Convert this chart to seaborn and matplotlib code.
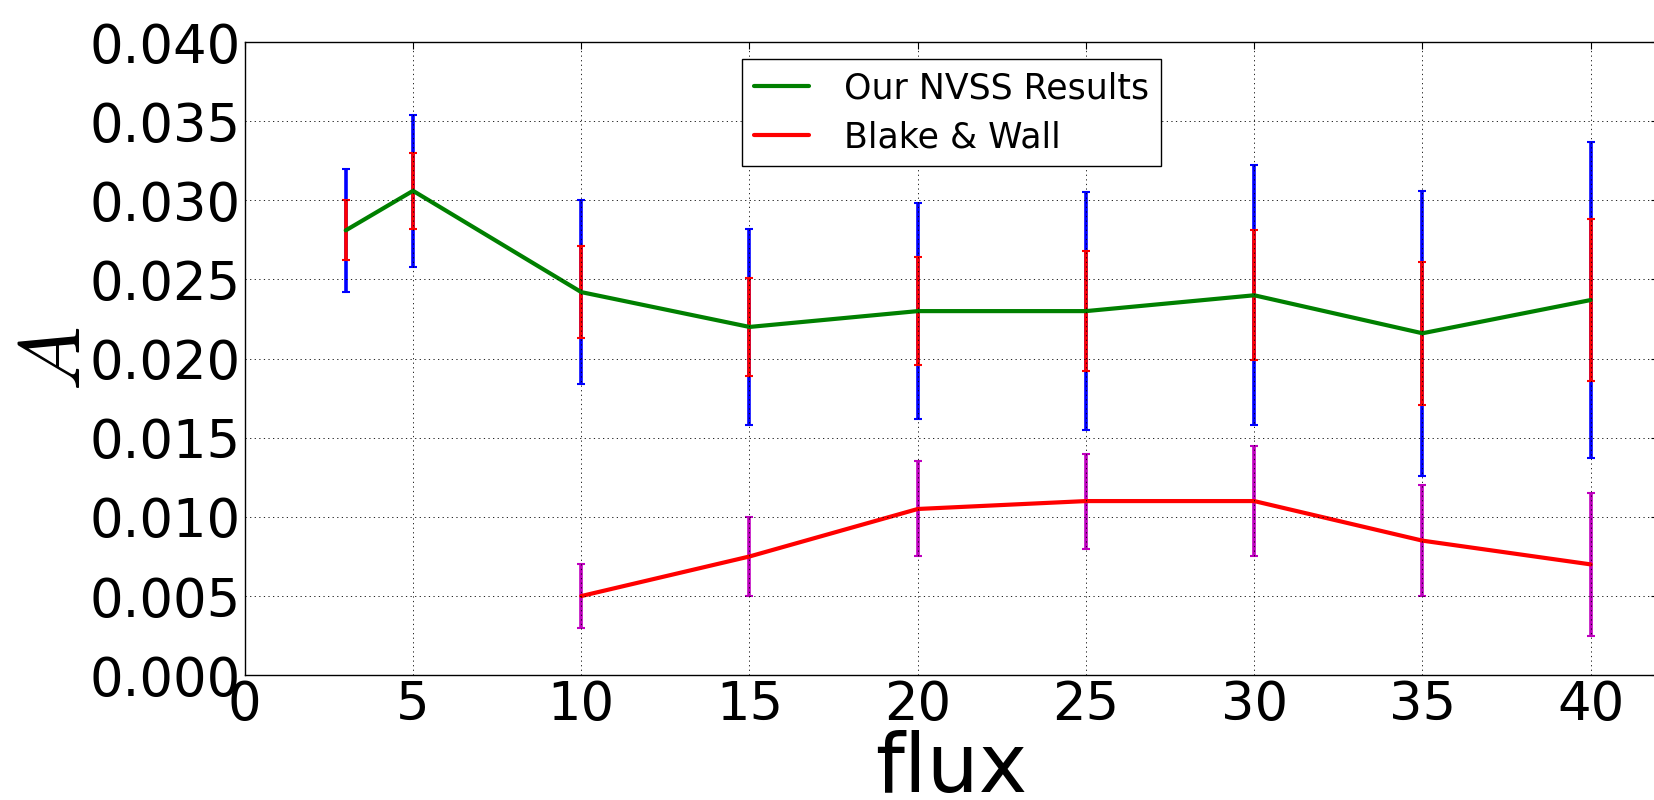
import matplotlib
matplotlib.use("Agg")
import matplotlib.pyplot as plt
from matplotlib.ticker import FormatStrFormatter, MultipleLocator
import seaborn as sns

# Dipole amplitude A versus flux cut
flux_nvss = [3, 5, 10, 15, 20, 25, 30, 35, 40]
A_nvss = [0.0281, 0.0306, 0.0242, 0.0220, 0.0230, 0.0230, 0.0240, 0.0216, 0.0237]
err_total = [0.0039, 0.0048, 0.0058, 0.0062, 0.0068, 0.0075, 0.0082, 0.0090, 0.0100]
err_stat = [0.0019, 0.0024, 0.0029, 0.0031, 0.0034, 0.0038, 0.0041, 0.0045, 0.0051]

flux_bw = [10, 15, 20, 25, 30, 35, 40]
A_bw = [0.0050, 0.0075, 0.0105, 0.0110, 0.0110, 0.0085, 0.0070]
err_bw = [0.0020, 0.0025, 0.0030, 0.0030, 0.0035, 0.0035, 0.0045]

label_nvss = "Our NVSS Results"
label_bw = "Blake & Wall"
x_ticks = [0, 5, 10, 15, 20, 25, 30, 35, 40]

sns.set_style("white")
plt.rcParams["font.family"] = ["DejaVu Sans"]
plt.rcParams["mathtext.fontset"] = "cm"
plt.rcParams["text.color"] = "black"
plt.rcParams["axes.labelcolor"] = "black"
plt.rcParams["xtick.color"] = "black"
plt.rcParams["ytick.color"] = "black"

fig = plt.figure(figsize=(16.54, 8.0), dpi=100)
ax = fig.add_axes([0.148, 0.156, 1.0024 - 0.148, 0.9475 - 0.156])

eb_kw = dict(fmt="none", elinewidth=2.6, capsize=3, capthick=1.5)
ax.errorbar(flux_nvss, A_nvss, yerr=err_total, ecolor=(0, 0, 1), **eb_kw)
ax.errorbar(flux_nvss, A_nvss, yerr=err_stat, ecolor=(1, 0, 0), **eb_kw)
ax.errorbar(flux_bw, A_bw, yerr=err_bw, ecolor=(0.75, 0, 0.75), **eb_kw)

sns.lineplot(x=flux_nvss, y=A_nvss, ax=ax, color=(0, 0.5, 0), linewidth=3,
             label=label_nvss, errorbar=None, sort=False)
sns.lineplot(x=flux_bw, y=A_bw, ax=ax, color=(1, 0, 0), linewidth=3,
             label=label_bw, errorbar=None, sort=False)

ax.set_xlim(0, 42)
ax.set_ylim(0, 0.040)
ax.set_xticks(x_ticks)
ax.yaxis.set_major_locator(MultipleLocator(0.005))
ax.yaxis.set_major_formatter(FormatStrFormatter("%.3f"))

ax.set_axisbelow(False)
ax.grid(True, color="k", linestyle=(0, (1.5, 4)), linewidth=0.6)

for s in ax.spines.values():
    s.set_visible(True)
    s.set_color("k")
    s.set_linewidth(1.0)

ax.tick_params(axis="both", which="major", direction="in", length=5, width=0.8,
               labelsize=38, top=True, right=True, colors="k", pad=3)

ax.set_xlabel("flux", fontsize=59, color="k")
ax.xaxis.set_label_coords(0.5, -0.087)
ax.set_ylabel("$A$", fontsize=62, color="k")
ax.yaxis.set_label_coords(-0.104, 0.5)

leg = ax.legend(loc="upper center", fontsize=25, frameon=True, fancybox=False,
                framealpha=1.0, edgecolor="k", borderpad=0.35, labelspacing=0.42,
                handlelength=1.6, handletextpad=1.0, borderaxespad=0.5)
leg.get_frame().set_linewidth(1.0)
for t in leg.get_texts():
    t.set_color("k")

fig.savefig("out.png", dpi=100)
